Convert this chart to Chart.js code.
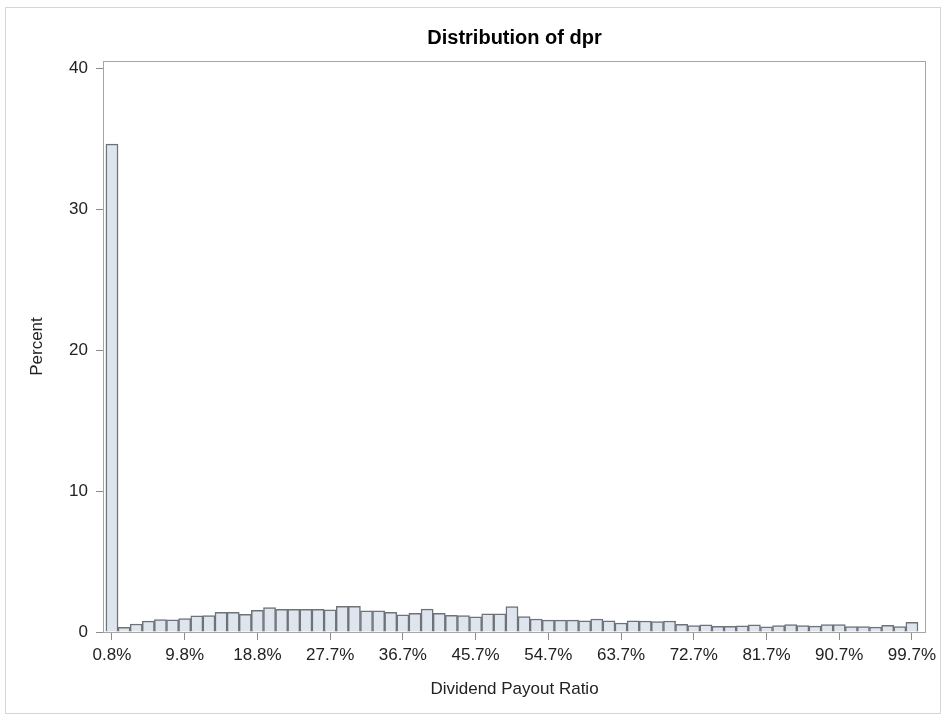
<!DOCTYPE html>
<html>
<head>
<meta charset="utf-8">
<title>Distribution of dpr</title>
<script src="https://cdn.jsdelivr.net/npm/chart.js@4.4.1/dist/chart.umd.min.js"></script>
<style>
  html, body { margin: 0; padding: 0; background: #fff; }
  #wrap { position: relative; width: 946px; height: 716px; }
  #frame { position: absolute; left: 5px; top: 7px; width: 934px; height: 705px; border: 1px solid #d6d6d6; pointer-events: none; }
  canvas { position: absolute; left: 0; top: 0; }
</style>
</head>
<body>
<div id="wrap">
  <canvas id="histChart" width="946" height="716"></canvas>
  <div id="frame"></div>
</div>
<script>
// percent of observations in each payout-ratio bin (67 bins, first one is the zero spike)
var pctValues = [
  34.6, 0.33, 0.57, 0.77, 0.88, 0.87, 0.95, 1.15, 1.16, 1.40,
  1.40, 1.25, 1.53, 1.73, 1.60, 1.60, 1.60, 1.60, 1.58, 1.82,
  1.82, 1.50, 1.50, 1.39, 1.22, 1.33, 1.62, 1.33, 1.19, 1.16,
  1.07, 1.28, 1.28, 1.81, 1.10, 0.92, 0.84, 0.84, 0.84, 0.80,
  0.92, 0.79, 0.64, 0.79, 0.78, 0.74, 0.78, 0.55, 0.46, 0.50,
  0.41, 0.41, 0.43, 0.50, 0.36, 0.46, 0.52, 0.46, 0.42, 0.53,
  0.53, 0.38, 0.38, 0.35, 0.48, 0.39, 0.68
];

// bins that carry a tick label, and the labels
var tickPos = [0, 6, 12, 18, 24, 30, 36, 42, 48, 54, 60, 66];
var tickLabels = ['0.8%', '9.8%', '18.8%', '27.7%', '36.7%', '45.7%',
                  '54.7%', '63.7%', '72.7%', '81.7%', '90.7%', '99.7%'];
var yTicks = [0, 10, 20, 30, 40];

Chart.defaults.font.family = '"Liberation Sans", Arial, sans-serif';
Chart.defaults.color = '#222';

var points = pctValues.map(function (v, i) {
    return {x: i, y: v};
});

// grey box round the plot area
var framePlugin = {
    id: 'frame',
    afterDatasetsDraw: function (chart) {
        var a = chart.chartArea;
        var c = chart.ctx;
        c.save();
        c.strokeStyle = '#a6a6a6';
        c.lineWidth = 1;
        c.strokeRect(a.left + 0.5, a.top + 0.5, a.right - a.left - 1, a.bottom - a.top);
        c.restore();
    }
};

var histChart = new Chart(document.getElementById('histChart'), {
    type: 'bar',
    data: {
        datasets: [{
            data: points,
            backgroundColor: '#dfe5ef',
            borderColor: '#6f7377',
            borderWidth: 1.5,
            barPercentage: 1,
            categoryPercentage: 1
        }]
    },
    options: {
        responsive: false,
        animation: false,
        layout: {padding: {top: 0, right: 20, bottom: 0, left: 0}},
        plugins: {
            legend: {display: false},
            tooltip: {enabled: false},
            title: {
                display: true,
                text: 'Distribution of dpr',
                fullSize: false,
                color: '#000',
                font: {size: 20, weight: 'bold'},
                padding: {top: 26, bottom: 11}
            }
        },
        scales: {
            x: {
                type: 'linear',
                min: -0.74,
                max: 67.16,
                offset: false,
                grid: {offset: false, drawOnChartArea: false, drawTicks: true, tickLength: 8, color: '#8c8c8c'},
                border: {display: false},
                afterBuildTicks: function (axis) {
                    axis.ticks = tickPos.map(function (v) { return {value: v}; });
                },
                ticks: {
                    autoSkip: false,
                    maxRotation: 0,
                    padding: 5,
                    font: {size: 17},
                    callback: function (v) {
                        return tickLabels[tickPos.indexOf(v)];
                    }
                },
                title: {display: true, text: 'Dividend Payout Ratio', font: {size: 17}, padding: {top: 0, bottom: 16}},
                afterFit: function (axis) {
                    axis.height = 84;
                }
            },
            y: {
                min: 0,
                max: 40.5,
                grid: {drawOnChartArea: false, drawTicks: true, tickLength: 7, color: '#8c8c8c'},
                border: {display: false},
                afterBuildTicks: function (axis) {
                    axis.ticks = yTicks.map(function (v) { return {value: v}; });
                },
                ticks: {padding: 8, font: {size: 17}},
                title: {display: true, text: 'Percent', font: {size: 17}, padding: {top: 27, bottom: 0}},
                afterFit: function (axis) {
                    axis.width = 103;
                }
            }
        }
    },
    plugins: [framePlugin]
});
</script>
</body>
</html>
